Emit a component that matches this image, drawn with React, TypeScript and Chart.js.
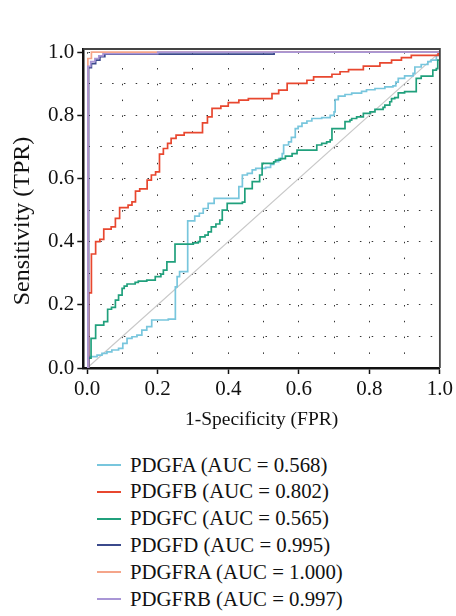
import React, { useEffect, useRef } from 'react';
import { Chart, registerables } from 'chart.js';

Chart.register(...registerables);

const FONT = "'Liberation Serif', 'Times New Roman', serif";

const seriesNames = ['PDGFA', 'PDGFB', 'PDGFC', 'PDGFD', 'PDGFRA', 'PDGFRB'];
const aucValues = ['0.568', '0.802', '0.565', '0.995', '1.000', '0.997'];
const seriesColors = ['#78c6dd', '#e8472f', '#20a07c', '#3b4a8c', '#f5a58a', '#a996d6'];

const pdgfaFpr = [0.005, 0.028, 0.042, 0.056, 0.070, 0.089, 0.101, 0.113, 0.127, 0.141, 0.155, 0.169, 0.183, 0.230, 0.250, 0.255, 0.262, 0.285, 0.305, 0.318, 0.329, 0.343, 0.360, 0.430, 0.440, 0.454, 0.468, 0.478, 0.506, 0.520, 0.529, 0.543, 0.553, 0.557, 0.571, 0.579, 0.590, 0.598, 0.609, 0.623, 0.637, 0.665, 0.689, 0.700, 0.703, 0.712, 0.731, 0.750, 0.778, 0.792, 0.816, 0.844, 0.867, 0.875, 0.882, 0.900, 0.924, 0.929, 0.947, 0.966, 0.975, 0.990, 1.000];
const pdgfaTpr = [0.036, 0.041, 0.046, 0.051, 0.057, 0.062, 0.078, 0.094, 0.099, 0.104, 0.120, 0.131, 0.152, 0.155, 0.257, 0.289, 0.305, 0.466, 0.481, 0.490, 0.505, 0.521, 0.537, 0.574, 0.611, 0.616, 0.627, 0.632, 0.635, 0.645, 0.653, 0.663, 0.679, 0.706, 0.716, 0.730, 0.758, 0.765, 0.775, 0.782, 0.790, 0.793, 0.800, 0.811, 0.850, 0.861, 0.866, 0.870, 0.876, 0.881, 0.885, 0.890, 0.893, 0.905, 0.917, 0.925, 0.933, 0.953, 0.961, 0.970, 0.975, 0.990, 1.000];

const pdgfbFpr = [0.004, 0.012, 0.024, 0.036, 0.047, 0.068, 0.080, 0.092, 0.116, 0.127, 0.137, 0.149, 0.170, 0.182, 0.194, 0.205, 0.216, 0.228, 0.238, 0.252, 0.275, 0.327, 0.341, 0.354, 0.379, 0.400, 0.430, 0.457, 0.524, 0.543, 0.567, 0.623, 0.642, 0.694, 0.717, 0.741, 0.783, 0.830, 0.863, 0.891, 0.919, 0.995, 1.000];
const pdgfbTpr = [0.238, 0.361, 0.400, 0.407, 0.440, 0.447, 0.474, 0.508, 0.516, 0.526, 0.560, 0.567, 0.595, 0.611, 0.621, 0.677, 0.695, 0.711, 0.727, 0.737, 0.745, 0.776, 0.795, 0.822, 0.829, 0.840, 0.848, 0.853, 0.869, 0.880, 0.901, 0.911, 0.922, 0.930, 0.938, 0.945, 0.956, 0.966, 0.975, 0.983, 0.990, 1.000, 1.000];

const pdgfcFpr = [0.002, 0.011, 0.024, 0.047, 0.058, 0.069, 0.080, 0.089, 0.099, 0.105, 0.113, 0.136, 0.145, 0.169, 0.193, 0.209, 0.216, 0.226, 0.249, 0.301, 0.315, 0.320, 0.334, 0.343, 0.352, 0.365, 0.376, 0.383, 0.397, 0.440, 0.447, 0.468, 0.489, 0.496, 0.529, 0.534, 0.548, 0.562, 0.581, 0.595, 0.651, 0.665, 0.679, 0.689, 0.694, 0.731, 0.745, 0.750, 0.764, 0.783, 0.802, 0.816, 0.839, 0.844, 0.858, 0.863, 0.872, 0.882, 0.900, 0.933, 0.947, 0.980, 0.990, 0.994, 1.000];
const pdgfcTpr = [0.031, 0.094, 0.136, 0.147, 0.186, 0.192, 0.215, 0.231, 0.252, 0.259, 0.266, 0.271, 0.275, 0.278, 0.289, 0.297, 0.310, 0.336, 0.392, 0.396, 0.400, 0.415, 0.421, 0.431, 0.447, 0.456, 0.468, 0.500, 0.521, 0.525, 0.568, 0.590, 0.611, 0.648, 0.653, 0.658, 0.663, 0.671, 0.679, 0.690, 0.706, 0.711, 0.716, 0.722, 0.758, 0.780, 0.785, 0.790, 0.795, 0.806, 0.811, 0.819, 0.825, 0.832, 0.843, 0.853, 0.856, 0.871, 0.875, 0.917, 0.924, 0.943, 0.948, 0.975, 1.000];

const pdgfdFpr = [0.004, 0.012, 0.024, 0.036, 0.050, 0.530, 1.000];
const pdgfdTpr = [0.951, 0.964, 0.975, 0.986, 0.994, 1.000, 1.000];

const pdgfraFpr = [0.002, 0.012, 1.000];
const pdgfraTpr = [0.980, 1.000, 1.000];

const pdgfrbFpr = [0.002, 0.010, 0.022, 0.033, 0.045, 0.200, 1.000];
const pdgfrbTpr = [0.955, 0.970, 0.980, 0.988, 0.995, 1.000, 1.000];

const diagonalX = [0, 1];
const diagonalY = [0, 1];

const tickValues = [0, 0.1, 0.2, 0.3, 0.4, 0.5, 0.6, 0.7, 0.8, 0.9, 1.0];
const tickLabels = ['0.0', '', '0.2', '', '0.4', '', '0.6', '', '0.8', '', '1.0'];

const xTitle = '1-Specificity (FPR)';
const yTitle = 'Sensitivity (TPR)';

const seriesFpr = [pdgfaFpr, pdgfbFpr, pdgfcFpr, pdgfdFpr, pdgfraFpr, pdgfrbFpr];
const seriesTpr = [pdgfaTpr, pdgfbTpr, pdgfcTpr, pdgfdTpr, pdgfraTpr, pdgfrbTpr];

function buildSteps(xs: number[], ys: number[]) {
  const pts: { x: number; y: number }[] = [{ x: 0, y: 0 }];
  let prevY = 0;
  for (let i = 0; i < xs.length; i++) {
    pts.push({ x: xs[i], y: prevY });
    pts.push({ x: xs[i], y: ys[i] });
    prevY = ys[i];
  }
  return pts;
}

const framePlugin = {
  id: 'frameAndTitle',
  afterDraw(chart: any) {
    const { ctx, chartArea } = chart;
    ctx.save();
    ctx.strokeStyle = '#444';
    ctx.lineWidth = 1.8;
    ctx.beginPath();
    ctx.moveTo(chartArea.left, chartArea.top);
    ctx.lineTo(chartArea.right, chartArea.top);
    ctx.lineTo(chartArea.right, chartArea.bottom);
    ctx.stroke();
    ctx.restore();

    ctx.save();
    ctx.font = `24px ${FONT}`;
    ctx.fillStyle = '#111';
    ctx.textAlign = 'center';
    ctx.textBaseline = 'middle';
    ctx.translate(22.5, (chartArea.top + chartArea.bottom) / 2 + 12.5);
    ctx.rotate(-Math.PI / 2);
    ctx.fillText(yTitle, 0, 0);
    ctx.restore();
  },
};

function ChartCanvas() {
  const ref = useRef<HTMLCanvasElement | null>(null);
  useEffect(() => {
    if (!ref.current) return;
    const datasets: any[] = [
      {
        label: 'diagonal',
        data: diagonalX.map((x, i) => ({ x, y: diagonalY[i] })),
        borderColor: '#c8c8c8',
        borderWidth: 1.2,
        pointRadius: 0,
        showLine: true,
        order: 10,
      },
    ];
    seriesNames.forEach((name, i) => {
      datasets.push({
        label: name,
        data: buildSteps(seriesFpr[i], seriesTpr[i]),
        borderColor: seriesColors[i],
        borderWidth: 1.7,
        pointRadius: 0,
        showLine: true,
        tension: 0,
        order: 6 - i,
      });
    });

    const tickColorFn = (ctx: any) => (ctx.index % 2 === 0 ? '#111' : 'rgba(0,0,0,0)');

    const chart = new Chart(ref.current, {
      type: 'scatter',
      data: { datasets },
      options: {
        animation: false,
        responsive: false,
        events: [],
        layout: { padding: { left: 0, right: 14, top: 49, bottom: 0 } },
        plugins: {
          legend: { display: false },
          tooltip: { enabled: false },
        },
        scales: {
          x: {
            type: 'linear',
            min: -0.011,
            max: 1.0,
            afterBuildTicks: (scale: any) => {
              scale.ticks = tickValues.map((v) => ({ value: v }));
            },
            afterFit: (scale: any) => {
              scale.height = 82;
            },
            ticks: {
              autoSkip: false,
              maxRotation: 0,
              padding: 3,
              color: '#111',
              font: { family: FONT, size: 21 },
              callback: (_v: any, i: number) => tickLabels[i],
            },
            grid: {
              color: '#333',
              lineWidth: 1,
              tickLength: 6,
              tickWidth: 1.5,
              tickColor: tickColorFn,
            },
            border: { color: '#111', width: 2.5, dash: [1.5, 14.3], dashOffset: 12.6 },
            title: {
              display: true,
              text: xTitle,
              color: '#111',
              font: { family: FONT, size: 19.5 },
              padding: { top: 0, bottom: 18.3 },
            },
          },
          y: {
            type: 'linear',
            min: 0,
            max: 1.01,
            afterBuildTicks: (scale: any) => {
              scale.ticks = tickValues.map((v) => ({ value: v }));
            },
            afterFit: (scale: any) => {
              scale.width = 83.3;
            },
            ticks: {
              autoSkip: false,
              padding: 3,
              color: '#111',
              font: { family: FONT, size: 21 },
              callback: (_v: any, i: number) => tickLabels[i],
            },
            grid: {
              color: '#333',
              lineWidth: 1,
              tickLength: 6,
              tickWidth: 1.5,
              tickColor: tickColorFn,
            },
            border: { color: '#111', width: 2.5, dash: [1.5, 10.3], dashOffset: 7.8 },
          },
        },
      },
      plugins: [framePlugin],
    } as any);
    return () => chart.destroy();
  }, []);
  return <canvas ref={ref} width={456} height={450} style={{ display: 'block' }} />;
}

export default function App() {
  useEffect(() => {
    document.body.style.margin = '0';
  }, []);
  return (
    <div style={{ position: 'relative', width: 456, height: 616, overflow: 'hidden' }}>
      <ChartCanvas />
      <div style={{ position: 'absolute', left: 97, top: 451.6 }}>
        {seriesNames.map((name, i) => (
          <div key={name} style={{ display: 'flex', alignItems: 'center', height: 26.8 }}>
            <div style={{ width: 24, height: 0, borderTop: `2px solid ${seriesColors[i]}`, marginRight: 9 }} />
            <span style={{ fontFamily: FONT, fontSize: 20.8, color: '#111', whiteSpace: 'nowrap', lineHeight: '26.8px' }}>
              {`${name} (AUC = ${aucValues[i]})`}
            </span>
          </div>
        ))}
      </div>
    </div>
  );
}
